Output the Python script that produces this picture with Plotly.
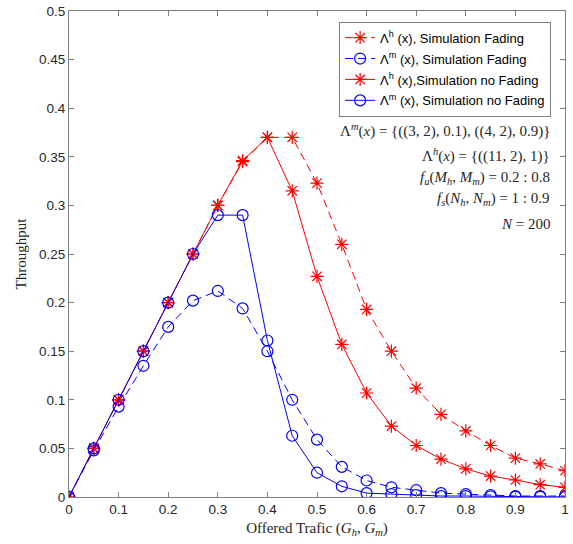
import plotly.graph_objects as go

x = [0, 0.05, 0.1, 0.15, 0.2, 0.25, 0.3, 0.35, 0.4, 0.45, 0.5, 0.55, 0.6, 0.65, 0.7, 0.75, 0.8, 0.85, 0.9, 0.95, 1.0]

h_fading = [0, 0.05, 0.1, 0.15, 0.2, 0.25, 0.3, 0.345, 0.37, 0.37, 0.323, 0.26, 0.193, 0.15, 0.112, 0.085, 0.068, 0.053, 0.040, 0.034, 0.027]
m_fading = [0, 0.048, 0.093, 0.135, 0.175, 0.202, 0.212, 0.194, 0.15, 0.1, 0.059, 0.031, 0.017, 0.010, 0.007, 0.004, 0.003, 0.002, 0.001, 0.001, 0.001]
h_nofading = [0, 0.05, 0.1, 0.15, 0.2, 0.25, 0.3, 0.346, 0.37, 0.315, 0.227, 0.157, 0.107, 0.073, 0.053, 0.039, 0.029, 0.0215, 0.0175, 0.0127, 0.010]
m_nofading = [0, 0.05, 0.1, 0.15, 0.2, 0.25, 0.29, 0.29, 0.161, 0.063, 0.025, 0.011, 0.004, 0.003, 0.002, 0.001, 0.001, 0.0005, 0.0003, 0.0002, 0.0001]

names = ["Λ<sup>h</sup> (x), Simulation Fading",
         "Λ<sup>m</sup> (x), Simulation Fading",
         "Λ<sup>h</sup> (x),Simulation no Fading",
         "Λ<sup>m</sup> (x), Simulation no Fading"]

annotations_text = [
    "Λ<sup><i>m</i></sup>(<i>x</i>) = {((3, 2), 0.1), ((4, 2), 0.9)}",
    "Λ<sup><i>h</i></sup>(<i>x</i>) = {((11, 2), 1)}",
    "<i>f<sub>u</sub></i>(<i>M<sub>h</sub></i>, <i>M<sub>m</sub></i>) = 0.2 : 0.8",
    "<i>f<sub>s</sub></i>(<i>N<sub>h</sub></i>, <i>N<sub>m</sub></i>) = 1 : 0.9",
    "<i>N</i> = 200",
]
annotations_y = [0.3768, 0.3511, 0.3285, 0.307, 0.2813]

RED = "#ff0000"
BLUE = "#0000ff"
series = [(h_fading, RED, "8px,5px", "asterisk-open"),
          (m_fading, BLUE, "8px,5px", "circle-open"),
          (h_nofading, RED, "solid", "asterisk-open"),
          (m_nofading, BLUE, "solid", "circle-open")]

fig = go.Figure()
for i, (yv, col, dash, sym) in enumerate(series):
    fig.add_trace(go.Scatter(x=x, y=yv, name=names[i], mode="lines+markers", legendgroup=f"g{i}",
                             line=dict(color=col, width=1, dash=dash),
                             marker=dict(symbol=sym, size=11, color=col, line=dict(color=col, width=1.2))))

for t, yy in zip(annotations_text, annotations_y):
    fig.add_annotation(x=0.974, y=yy, xref="x", yref="y", text=t, showarrow=False,
                       xanchor="right", yanchor="middle",
                       font=dict(family="Liberation Serif", size=15, color="#262626"))

axis_common = dict(showgrid=False, zeroline=False, showline=True, linecolor="#7f7f7f", linewidth=1,
                   mirror="ticks", ticks="inside", ticklen=5, tickcolor="#7f7f7f",
                   tickfont=dict(family="Liberation Sans", size=13.5, color="#262626"))

fig.update_layout(
    width=573, height=544,
    margin=dict(l=69, r=4, t=10, b=47),
    plot_bgcolor="white", paper_bgcolor="white",
    xaxis=dict(range=[0, 1], tickvals=[0, 0.1, 0.2, 0.3, 0.4, 0.5, 0.6, 0.7, 0.8, 0.9, 1],
               ticktext=["0", "0.1", "0.2", "0.3", "0.4", "0.5", "0.6", "0.7", "0.8", "0.9", "1"],
               title=dict(text="Offered Trafic (<i>G<sub>h</sub></i>, <i>G<sub>m</sub></i>)",
                          font=dict(family="Liberation Serif", size=15, color="#262626"), standoff=6),
               **axis_common),
    yaxis=dict(range=[0, 0.5], tickvals=[0, 0.05, 0.1, 0.15, 0.2, 0.25, 0.3, 0.35, 0.4, 0.45, 0.5],
               ticktext=["0", "0.05", "0.1", "0.15", "0.2", "0.25", "0.3", "0.35", "0.4", "0.45", "0.5"],
               title=dict(text="Throughput", font=dict(family="Liberation Serif", size=15, color="#262626"), standoff=8),
               **axis_common),
    legend=dict(x=0.972, y=0.978, xanchor="right", yanchor="top",
                bgcolor="white", bordercolor="#7f7f7f", borderwidth=1,
                font=dict(family="Liberation Sans", size=13, color="#000000"),
                tracegroupgap=1),
    showlegend=True,
)

fig.write_html("out.html")
